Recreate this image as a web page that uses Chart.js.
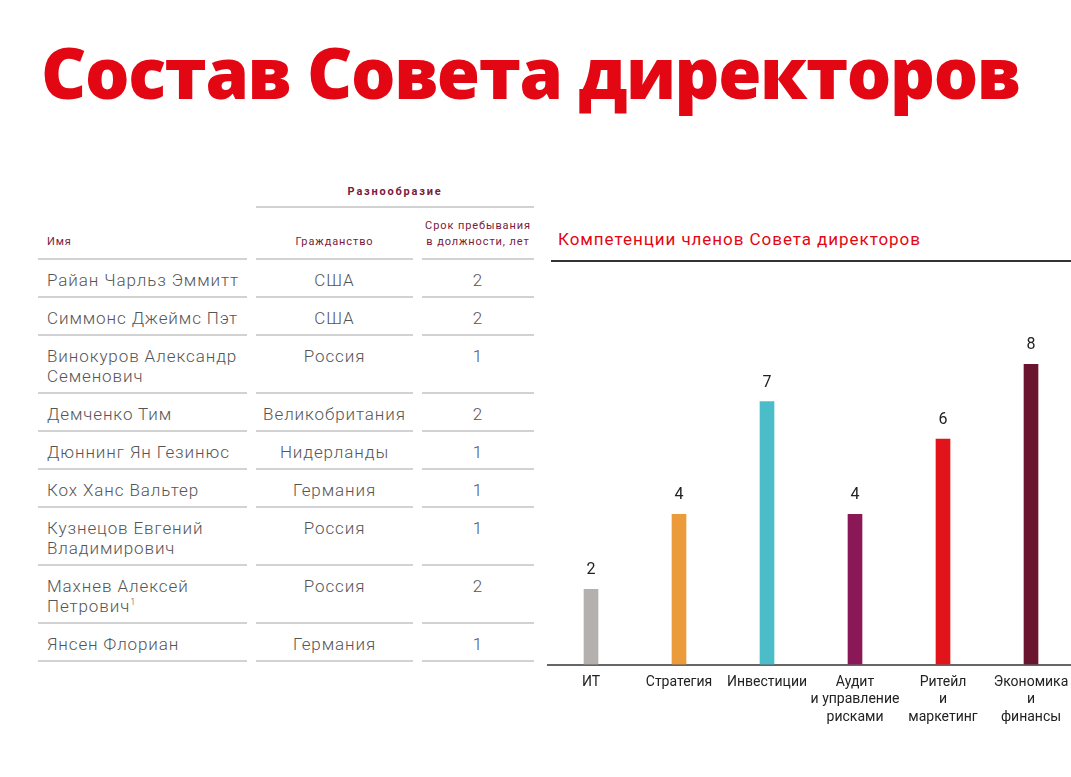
<!DOCTYPE html>
<html lang="ru">
<head>
<meta charset="utf-8">
<script src="https://cdn.jsdelivr.net/npm/chart.js@4"></script>
<style>
  html, body { margin: 0; padding: 0; background: #fff; overflow: hidden; }
  body { width: 1071px; height: 777px; position: relative; font-family: Roboto, "Noto Sans", sans-serif; }
  #title { position: absolute; left: 41px; top: 27px; margin: 0; font-family: "Open Sans", sans-serif; font-weight: 800;
           font-size: 70px; line-height: 90px; color: #e30613; letter-spacing: -1.4px; white-space: nowrap; }
  #board { position: absolute; left: 29px; top: 176px; border-collapse: separate; border-spacing: 9px 0; }
  #board td { padding: 0; vertical-align: top; }
  #board .grp { text-align: center; color: #7b1a3c; font-weight: bold; font-size: 11px; letter-spacing: 1.8px;
                height: 30px; border-bottom: 2px solid #d2d2d2; vertical-align: middle; padding-top: 0; }
  #board .hd td { color: #7b1a3c; font-size: 11px; letter-spacing: 0.9px; line-height: 16px; vertical-align: bottom;
                  padding: 10px 0 8px 0; border-bottom: 2px solid #d2d2d2; }
  #board .body td { color: #555; font-weight: 300; font-size: 17px; letter-spacing: 0.9px; line-height: 20px;
                    padding: 10px 0 6px 0; border-bottom: 2px solid #d2d2d2; }
  #board .c1 { width: 200px; padding-left: 9px !important; }
  #board .c2 { width: 157px; text-align: center; }
  #board .c3 { width: 112px; text-align: center; }
  #chartTitle { position: absolute; left: 558px; top: 229px; color: #e30613; font-size: 17px; letter-spacing: 0.95px; }
  #chartRule { position: absolute; left: 551px; top: 260px; width: 520px; height: 2px; background: #333; }
  #wrap { position: absolute; left: 547px; top: 300px; width: 528px; height: 427px; }
</style>
</head>
<body>
<h1 id="title">Состав Совета директоров</h1>

<table id="board">
  <tr><td></td><td class="grp" colspan="2">Разнообразие</td></tr>
  <tr class="hd"><td class="c1">Имя</td><td class="c2">Гражданство</td><td class="c3">Срок пребывания<br>в должности, лет</td></tr>
</table>

<div id="chartTitle">Компетенции членов Совета директоров</div>
<div id="chartRule"></div>
<div id="wrap"><canvas id="chart"></canvas></div>

<script>
// table data
const memberNames = [
  'Райан Чарльз Эммитт',
  'Симмонс Джеймс Пэт',
  'Винокуров Александр<br>Семенович',
  'Демченко Тим',
  'Дюннинг Ян Гезинюс',
  'Кох Ханс Вальтер',
  'Кузнецов Евгений<br>Владимирович',
  'Махнев Алексей<br>Петрович<sup style="font-size:9px;line-height:0">1</sup>',
  'Янсен Флориан'
];
const citizenship = ['США', 'США', 'Россия', 'Великобритания', 'Нидерланды', 'Германия', 'Россия', 'Россия', 'Германия'];
const tenureYears = [2, 2, 1, 2, 1, 1, 1, 2, 1];

// chart data
const competences = ['ИТ', 'Стратегия', 'Инвестиции', ['Аудит', 'и управление', 'рисками'], ['Ритейл', 'и', 'маркетинг'], ['Экономика', 'и', 'финансы']];
const memberCounts = [2, 4, 7, 4, 6, 8];
const barColors = ['#b3b0ad', '#eb9b3a', '#4bbdc9', '#8a1857', '#e3131b', '#6a1430'];

const table = document.getElementById('board');
memberNames.forEach(function (name, i) {
    const tr = document.createElement('tr');
    tr.className = 'body';
    tr.innerHTML = '<td class="c1">' + name + '</td><td class="c2">' + citizenship[i] + '</td><td class="c3">' + tenureYears[i] + '</td>';
    table.appendChild(tr);
});

// numbers above the bars
const valueLabels = {
    id: 'valueLabels',
    afterDatasetsDraw(chart) {
        const ctx = chart.ctx;
        const meta = chart.getDatasetMeta(0);
        ctx.save();
        ctx.font = '16px Roboto, sans-serif';
        ctx.fillStyle = '#222';
        ctx.textAlign = 'center';
        ctx.textBaseline = 'middle';
        meta.data.forEach(function (bar, i) {
            ctx.fillText(chart.data.datasets[0].data[i], bar.x, bar.y - 19);
        });
        ctx.restore();
    }
};

new Chart(document.getElementById('chart'), {
    type: 'bar',
    data: {
        labels: competences,
        datasets: [{
            data: memberCounts,
            backgroundColor: barColors,
            barThickness: 14
        }]
    },
    options: {
        responsive: true,
        maintainAspectRatio: false,
        animation: false,
        layout: { padding: { top: 64, left: 0, right: 0 } },
        plugins: { legend: { display: false }, tooltip: { enabled: false } },
        scales: {
            x: {
                grid: { display: false },
                border: { color: '#666', width: 2 },
                ticks: {
                    color: '#222',
                    padding: 1,
                    maxRotation: 0,
                    autoSkip: false,
                    font: { family: 'Roboto', size: 14, lineHeight: 1.25 }
                }
            },
            y: { display: false, min: 0, max: 8 }
        }
    },
    plugins: [valueLabels]
});
</script>
</body>
</html>
